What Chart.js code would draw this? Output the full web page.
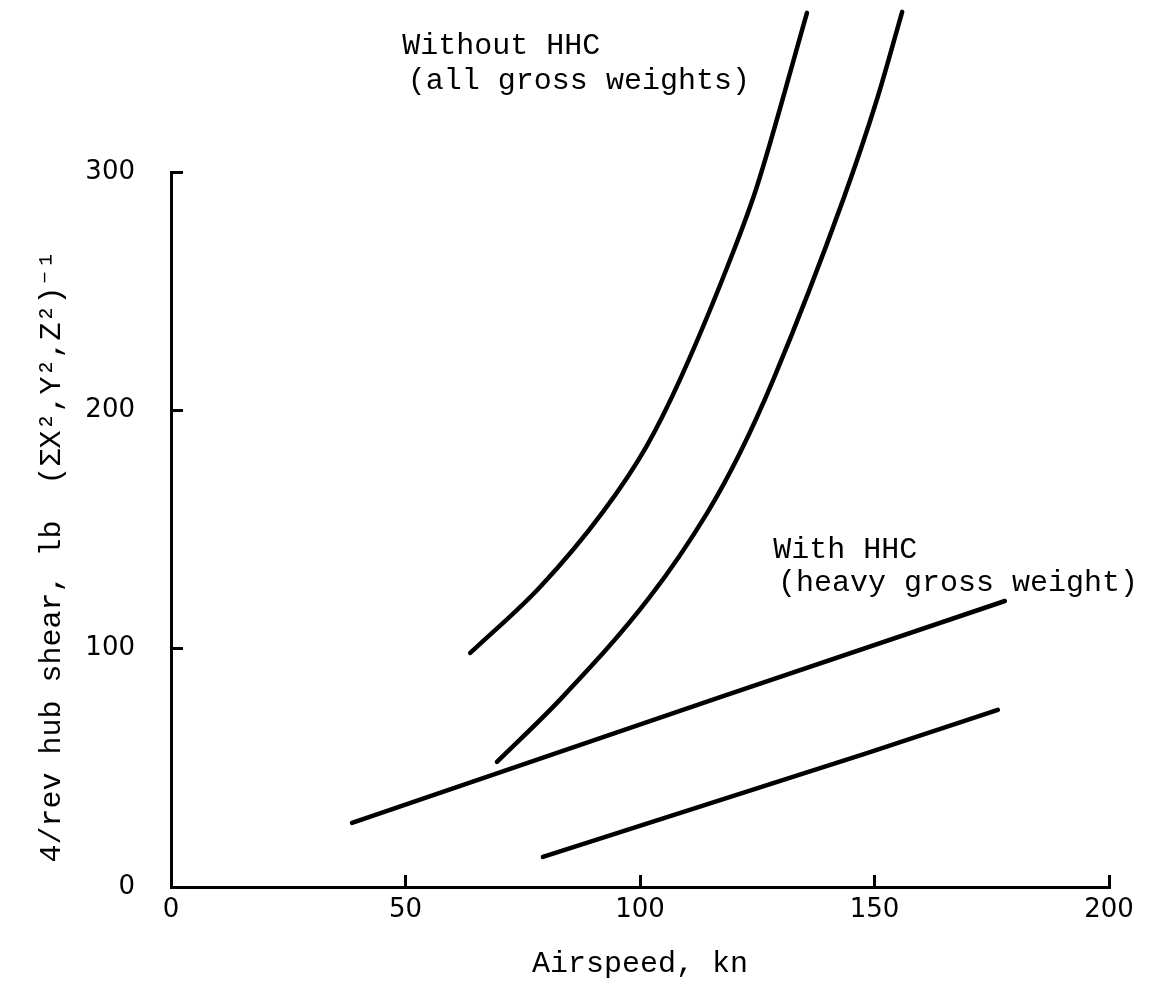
<!DOCTYPE html>
<html>
<head>
<meta charset="utf-8">
<script src="https://cdn.jsdelivr.net/npm/chart.js@4"></script>
<style>
  html, body { margin: 0; padding: 0; background: #fff; }
  #wrap { width: 1157px; height: 985px; position: relative; }
</style>
</head>
<body>
<div id="wrap"><canvas id="shearChart"></canvas></div>
<script>
// values (airspeed kn, hub shear)
const withoutLightX = [63.8, 78.7, 92.1, 101.3, 108.5, 119.8, 124.9, 135.6];
const withoutLightY = [98.2, 125.9, 157.4, 184.6, 212.8, 266.1, 293.7, 366.8];
const withoutHeavyX = [69.5, 82.9, 102.1, 114.3, 121.3, 128.4, 143.3, 150.5, 155.9];
const withoutHeavyY = [52.5, 78.5, 121.7, 156.9, 182.1, 212.8, 288.3, 330.3, 367.2];
const withHeavyX = [38.6, 117.1, 177.8];
const withHeavyY = [26.9, 79.7, 120.0];
const withLightX = [79.3, 148.4, 176.3];
const withLightY = [12.6, 56.2, 74.3];

const xTicks = [0, 50, 100, 150, 200];
const yTicks = [0, 100, 200, 300];

// text notes, anchored in data units
const notes = [
  { text: 'Without HHC', x: 49.3, y: 353 },
  { text: '(all gross weights)', x: 50.5, y: 338 },
  { text: 'With HHC', x: 128.4, y: 141.4 },
  { text: '(heavy gross weight)', x: 129.4, y: 127.6 }
];

function pts(xs, ys) {
  return xs.map((x, i) => ({ x: x, y: ys[i] }));
}

const monoFont = "'Liberation Mono', 'DejaVu Sans Mono', monospace";

const notePlugin = {
  id: 'notes',
  afterDatasetsDraw(chart) {
    const c = chart.ctx;
    const xs = chart.scales.x, ys = chart.scales.y;
    c.save();
    c.fillStyle = '#000';
    c.font = '30px ' + monoFont;
    c.textAlign = 'left';
    c.textBaseline = 'middle';
    notes.forEach(n => {
      c.fillText(n.text, xs.getPixelForValue(n.x), ys.getPixelForValue(n.y));
    });
    c.restore();
  }
};

function lineSet(data, smooth) {
  return {
    data: data,
    borderColor: '#000',
    borderWidth: 4.5,
    borderCapStyle: 'round',
    pointRadius: 0,
    fill: false,
    clip: false,
    tension: smooth ? 0.4 : 0,
    cubicInterpolationMode: smooth ? 'monotone' : 'default'
  };
}

new Chart(document.getElementById('shearChart'), {
  type: 'line',
  data: {
    datasets: [
      lineSet(pts(withoutLightX, withoutLightY), true),
      lineSet(pts(withoutHeavyX, withoutHeavyY), true),
      lineSet(pts(withHeavyX, withHeavyY), false),
      lineSet(pts(withLightX, withLightY), false)
    ]
  },
  options: {
    responsive: true,
    maintainAspectRatio: false,
    animation: false,
    layout: { padding: { top: 172, right: 48, bottom: 0, left: 0 } },
    plugins: { legend: { display: false }, tooltip: { enabled: false } },
    scales: {
      x: {
        type: 'linear',
        min: 0,
        max: 200,
        afterBuildTicks: s => { s.ticks = xTicks.map(v => ({ value: v })); },
        afterFit: s => { s.height = 98; },
        border: { display: true, color: '#000', width: 3 },
        grid: { drawOnChartArea: false, drawTicks: true, tickLength: -12, tickColor: '#000', tickWidth: 3 },
        ticks: { color: '#000', padding: 20, font: { family: 'DejaVu Sans', size: 26 } },
        title: {
          display: true,
          text: 'Airspeed, kn',
          color: '#000',
          font: { family: monoFont, size: 30 },
          padding: { top: 0, bottom: 3 }
        }
      },
      y: {
        type: 'linear',
        min: 0,
        max: 300,
        afterBuildTicks: s => { s.ticks = yTicks.map(v => ({ value: v })); },
        afterFit: s => { s.width = 171; },
        border: { display: true, color: '#000', width: 3 },
        grid: { drawOnChartArea: false, drawTicks: true, tickLength: -12, tickColor: '#000', tickWidth: 3 },
        ticks: { color: '#000', padding: 48, font: { family: 'DejaVu Sans', size: 26 } },
        title: {
          display: true,
          text: '4/rev hub shear, lb  (\u03A3X\u00B2,Y\u00B2,Z\u00B2)\u207B\u00B9   ',
          color: '#000',
          font: { family: monoFont, size: 30 },
          padding: { top: 34, bottom: 0 }
        }
      }
    }
  },
  plugins: [notePlugin]
});
</script>
</body>
</html>
